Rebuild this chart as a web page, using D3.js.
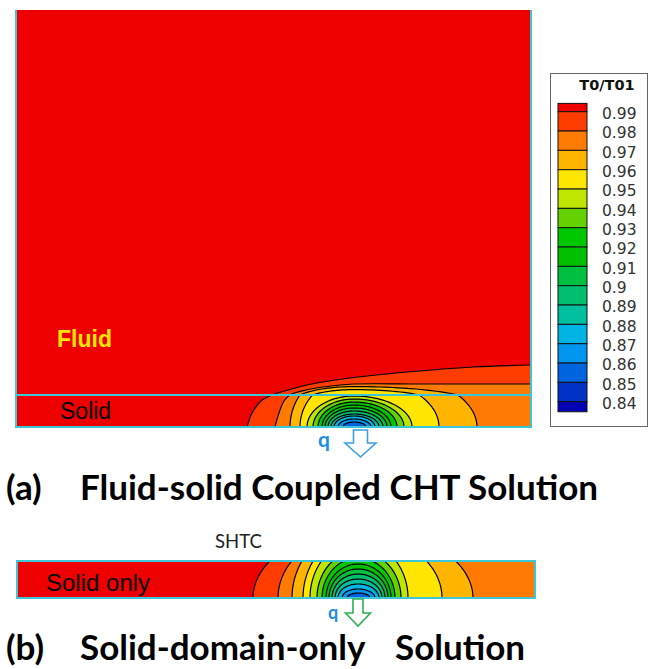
<!DOCTYPE html>
<html>
<head>
<meta charset="utf-8"/>
<style>
  body { margin: 0; background: #fff; }
  svg { display: block; }
  .title { font-family: Lato, "Open Sans", sans-serif; font-weight: 700; fill: #000; }
</style>
</head>
<body>
<svg id="chart" width="658" height="669"></svg>
<script src="https://d3js.org/d3.v7.min.js"></script>
<script>
// T0/T01 contour levels (legend order, top to bottom)
const levels = [0.99, 0.98, 0.97, 0.96, 0.95, 0.94, 0.93, 0.92, 0.91, 0.90, 0.89, 0.88, 0.87, 0.86, 0.85, 0.84];
const levelLabels = ["0.99", "0.98", "0.97", "0.96", "0.95", "0.94", "0.93", "0.92", "0.91", "0.9",
                     "0.89", "0.88", "0.87", "0.86", "0.85", "0.84"];
// one colour per band: above 0.99, 0.98-0.99, ... , below 0.84
const bandColors = ["#ee0000", "#ff3c00", "#ff7a00", "#ffb400", "#ffe600", "#bee600", "#64d200", "#00c800",
                    "#00c000", "#00c040", "#00c070", "#00c0a0", "#00b4e6", "#0096f0", "#0064e1", "#0032c8", "#0000b4"];

// (a) coupled case, mesh units: x from the left wall, y up from the heated wall
const topWidth = 515, topHeightMax = 417, topWall = 32;   // solid layer thickness
const topCentre = 338;
const topClosedLevels = [0.97, 0.96, 0.95, 0.94, 0.93, 0.92, 0.91, 0.90, 0.89, 0.88, 0.87, 0.86];
const topLeftHalf  = [64, 54, 47, 41, 36, 32, 29, 26, 23, 20, 16, 11];
const topRightHalf = [123, 85, 58, 50, 43, 37, 33, 29, 25, 21, 17, 12];
const topHeight    = [60, 50, 31, 28, 25, 22, 19, 16, 13, 11, 8, 5];
// isolines that leave through the outlet
const topLine099 = [[231, 0], [236, 14], [245, 26], [256, 32], [272, 37], [291, 42], [334, 49], [391, 55], [457, 60], [515, 62]];
const topLine098 = [[259, 0], [263, 14], [268, 26], [274, 32], [290, 37], [315, 41], [338, 43], [400, 43], [460, 43], [515, 43]];

// (b) solid only
const botWidth = 518, botHeightMax = 37;
const botCentre = 341;
const botLevels    = [0.99, 0.98, 0.97, 0.96, 0.95, 0.94, 0.93, 0.92, 0.91, 0.90, 0.89, 0.88, 0.87, 0.86];
const botLeftHalf  = [105, 80, 66, 55, 48, 41, 36, 32, 29, 26, 23, 20, 16, 11];
const botRightHalf = [420, 400, 115, 84, 50, 43, 37, 33, 30, 27, 24, 21, 17, 12];
const botHeight    = [68, 66, 70, 64, 57, 47, 40, 34, 29, 24, 19, 14, 9, 5];

const svg = d3.select("#chart");
const defs = svg.append("defs");
const cyan = "#3cc6d6";

const colorFor = lv => bandColors[levels.indexOf(lv) + 1];

// half ellipse from the wall, optionally squashed above the solid/fluid interface
function halfEllipse(c, aL, aR, b, wall, squash) {
  return d3.range(180, -1, -3).map(deg => {
    const th = deg * Math.PI / 180;
    const cx = Math.cos(th);
    let y = b * Math.sin(th);
    if (wall != null && y > wall) y = wall + (y - wall) * squash;
    return [c + (cx < 0 ? aL : aR) * cx, y];
  });
}

// ---- panel (a) ----
const xTop = d3.scaleLinear().domain([0, topWidth]).range([16, 531]);
const yTop = d3.scaleLinear().domain([0, topHeightMax]).range([427, 10]);

defs.append("clipPath").attr("id", "clipTop").append("rect")
  .attr("x", xTop(0)).attr("y", yTop(topHeightMax))
  .attr("width", xTop(topWidth) - xTop(0)).attr("height", yTop(0) - yTop(topHeightMax));

const gTop = svg.append("g").attr("clip-path", "url(#clipTop)");
gTop.append("rect")
  .attr("x", xTop(0)).attr("y", yTop(topHeightMax))
  .attr("width", xTop(topWidth) - xTop(0)).attr("height", yTop(0) - yTop(topHeightMax))
  .attr("fill", bandColors[0]);

const smoothTop = d3.line().x(d => xTop(d[0])).y(d => yTop(d[1])).curve(d3.curveCatmullRom.alpha(0.5));
const straightTop = d3.line().x(d => xTop(d[0])).y(d => yTop(d[1]));

[[0.99, topLine099], [0.98, topLine098]].forEach(([lv, pts]) => {
  gTop.append("path")
    .attr("d", smoothTop(pts) + `L${xTop(topWidth)},${yTop(0)}Z`)
    .attr("fill", colorFor(lv));
  gTop.append("path").attr("d", smoothTop(pts))
    .attr("fill", "none").attr("stroke", "#000").attr("stroke-width", 1.2);
});

topClosedLevels.forEach((lv, i) => {
  const pts = halfEllipse(topCentre, topLeftHalf[i], topRightHalf[i], topHeight[i], topWall, 0.3);
  gTop.append("path").attr("d", straightTop(pts) + "Z").attr("fill", colorFor(lv));
  gTop.append("path").attr("d", straightTop(pts))
    .attr("fill", "none").attr("stroke", "#000").attr("stroke-width", 1.2);
});

// walls and interface
svg.append("path")
  .attr("d", `M${xTop(0)},${yTop(topHeightMax)}V${yTop(0)}H${xTop(topWidth)}V${yTop(topHeightMax)}`)
  .attr("fill", "none").attr("stroke", cyan).attr("stroke-width", 2);
svg.append("line")
  .attr("x1", xTop(0)).attr("x2", xTop(topWidth)).attr("y1", yTop(topWall)).attr("y2", yTop(topWall))
  .attr("stroke", cyan).attr("stroke-width", 2);

svg.append("text").attr("x", 57).attr("y", 347).text("Fluid")
  .attr("font-family", "'Liberation Sans', Arial, sans-serif").attr("font-weight", 700)
  .attr("font-size", 23).attr("fill", "#ffe600");
svg.append("text").attr("x", 60).attr("y", 419).text("Solid")
  .attr("font-family", "'Liberation Sans', Arial, sans-serif")
  .attr("font-size", 23).attr("fill", "#000");

// ---- panel (b) ----
const xBot = d3.scaleLinear().domain([0, botWidth]).range([17, 535]);
const yBot = d3.scaleLinear().domain([0, botHeightMax]).range([598, 561]);

defs.append("clipPath").attr("id", "clipBot").append("rect")
  .attr("x", xBot(0)).attr("y", yBot(botHeightMax))
  .attr("width", xBot(botWidth) - xBot(0)).attr("height", yBot(0) - yBot(botHeightMax));

const gBot = svg.append("g").attr("clip-path", "url(#clipBot)");
gBot.append("rect")
  .attr("x", xBot(0)).attr("y", yBot(botHeightMax))
  .attr("width", xBot(botWidth) - xBot(0)).attr("height", yBot(0) - yBot(botHeightMax))
  .attr("fill", bandColors[0]);

const straightBot = d3.line().x(d => xBot(d[0])).y(d => yBot(d[1]));
botLevels.forEach((lv, i) => {
  const pts = halfEllipse(botCentre, botLeftHalf[i], botRightHalf[i], botHeight[i], null, 1);
  gBot.append("path").attr("d", straightBot(pts) + "Z").attr("fill", colorFor(lv));
  gBot.append("path").attr("d", straightBot(pts))
    .attr("fill", "none").attr("stroke", "#000").attr("stroke-width", 1.2);
});

svg.append("rect")
  .attr("x", xBot(0)).attr("y", yBot(botHeightMax))
  .attr("width", xBot(botWidth) - xBot(0)).attr("height", yBot(0) - yBot(botHeightMax))
  .attr("fill", "none").attr("stroke", cyan).attr("stroke-width", 2);

svg.append("text").attr("x", 46).attr("y", 591).text("Solid only")
  .attr("font-family", "'Liberation Sans', Arial, sans-serif")
  .attr("font-size", 24).attr("fill", "#000");
svg.append("text").attr("x", 215).attr("y", 548).text("SHTC")
  .attr("font-family", "Lato, sans-serif").attr("font-size", 18.5).attr("fill", "#222");

// ---- heat flux arrows ----
function arrow(cx, top, neck, tip, shaftHalf, headHalf, colour) {
  const p = d3.path();
  p.moveTo(cx - shaftHalf, top);
  p.lineTo(cx + shaftHalf, top);
  p.lineTo(cx + shaftHalf, neck);
  p.lineTo(cx + headHalf, neck);
  p.lineTo(cx, tip);
  p.lineTo(cx - headHalf, neck);
  p.lineTo(cx - shaftHalf, neck);
  p.closePath();
  svg.append("path").attr("d", p.toString())
    .attr("fill", "#fff").attr("stroke", colour).attr("stroke-width", 1.6).attr("stroke-linejoin", "miter");
}
arrow(360.5, 430, 443, 457, 7, 15.5, "#3aa0e8");
svg.append("text").attr("x", 318).attr("y", 447).text("q")
  .attr("font-family", "Lato, sans-serif").attr("font-weight", 700).attr("font-size", 21).attr("fill", "#1a8ee6");
arrow(358, 599, 613, 626, 5, 12.5, "#2fb056");
svg.append("text").attr("x", 328).attr("y", 619).text("q")
  .attr("font-family", "Lato, sans-serif").attr("font-weight", 700).attr("font-size", 18).attr("fill", "#1a8ee6");

// ---- titles ----
svg.append("text").attr("class", "title").attr("x", 6).attr("y", 500).attr("font-size", 35).text("(a)");
svg.append("text").attr("class", "title").attr("x", 80).attr("y", 500).attr("font-size", 35)
  .text("Fluid-solid Coupled CHT Solution");
svg.append("text").attr("class", "title").attr("x", 6).attr("y", 660).attr("font-size", 35).text("(b)");
svg.append("text").attr("class", "title").attr("x", 80).attr("y", 660).attr("font-size", 35)
  .text("Solid-domain-only");
svg.append("text").attr("class", "title").attr("x", 395).attr("y", 660).attr("font-size", 35)
  .text("Solution");

// ---- legend ----
const yLeg = d3.scaleLinear().domain([0.84, 0.99]).range([401.7, 111.7]);
const step = yLeg(0.98) - yLeg(0.99);
const gLeg = svg.append("g");
gLeg.append("rect").attr("x", 550.5).attr("y", 73.5).attr("width", 97).attr("height", 353)
  .attr("fill", "#fff").attr("stroke", "#666").attr("stroke-width", 1);
gLeg.append("text").attr("x", 607).attr("y", 90).attr("text-anchor", "middle").text("T0/T01")
  .attr("font-family", "'DejaVu Sans', sans-serif").attr("font-weight", 700).attr("font-size", 14.5).attr("fill", "#111");

bandColors.forEach((col, i) => {
  const y0 = i === 0 ? yLeg(levels[0]) - step * 0.43 : yLeg(levels[i - 1]);
  const y1 = i === levels.length ? yLeg(levels[levels.length - 1]) + step * 0.52 : yLeg(levels[i]);
  gLeg.append("rect").attr("x", 558).attr("y", y0).attr("width", 29).attr("height", y1 - y0)
    .attr("fill", col).attr("stroke", "#111").attr("stroke-width", 1);
});

gLeg.selectAll("text.lab").data(levels).join("text").attr("class", "lab")
  .attr("x", 602).attr("y", d => yLeg(d) + 2).attr("dy", "0.35em")
  .text((d, i) => levelLabels[i])
  .attr("font-family", "'DejaVu Sans', sans-serif").attr("font-size", 15.5).attr("fill", "#333");
</script>
</body>
</html>
